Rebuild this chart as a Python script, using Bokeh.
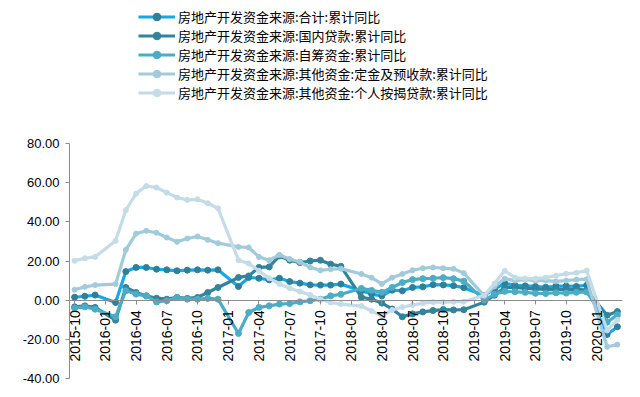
import numpy as np
from bokeh.plotting import figure
from bokeh.models import Range1d, FixedTicker, NumeralTickFormatter, Legend, LegendItem
from bokeh.embed import file_html
from bokeh.resources import INLINE

# ---------------- data ----------------
months = [
    "2015-10", "2015-11", "2015-12",
    "2016-02", "2016-03", "2016-04", "2016-05", "2016-06", "2016-07", "2016-08", "2016-09", "2016-10", "2016-11", "2016-12",
    "2017-02", "2017-03", "2017-04", "2017-05", "2017-06", "2017-07", "2017-08", "2017-09", "2017-10", "2017-11", "2017-12",
    "2018-02", "2018-03", "2018-04", "2018-05", "2018-06", "2018-07", "2018-08", "2018-09", "2018-10", "2018-11", "2018-12",
    "2019-02", "2019-03", "2019-04", "2019-05", "2019-06", "2019-07", "2019-08", "2019-09", "2019-10", "2019-11", "2019-12",
    "2020-02", "2020-03",
]

total = [1.5, 2.0, 2.6,
         -1.2, 14.6, 16.7, 16.7, 15.8, 15.5, 15.0, 15.3, 15.5, 15.3, 15.5,
         7.0, 11.6, 11.2, 10.4, 11.2, 9.5, 8.7, 7.8, 7.7, 7.7, 8.2,
         4.8, 3.1, 2.2, 5.1, 4.8, 6.5, 6.8, 7.9, 7.8, 7.4, 6.4,
         2.4, 5.6, 8.6, 7.6, 7.3, 7.0, 6.6, 7.2, 7.2, 7.0, 7.6,
         -17.5, -13.6]

domestic_loans = [-3.4, -2.9, -3.7,
                  -10.2, 6.5, 3.9, 2.2, 1.0, 0.5, 1.4, 0.9, 1.4, 3.9, 6.5,
                  11.6, 12.4, 16.7, 17.0, 22.6, 20.4, 19.2, 20.0, 20.4, 18.4, 17.3,
                  1.5, 0.5, -1.5, -4.5, -8.5, -7.0, -6.0, -5.3, -4.8, -5.0, -4.9,
                  -1.0, 2.5, 6.5, 6.5, 6.0, 5.8, 5.5, 5.6, 5.4, 5.5, 5.1,
                  -7.7, -5.8]

self_raised = [-4.1, -3.4, -4.6,
               -8.5, 4.8, 3.1, 2.2, -0.9, -0.3, 1.4, 0.5, 0.5, 0.9, 0.5,
               -17.0, -6.3, -3.7, -2.9, -2.0, -1.7, -0.9, -0.3, 0.5, 2.2, 3.0,
               6.0, 5.0, 4.0, 6.5, 9.0, 10.5, 11.0, 11.2, 11.5, 11.0, 9.7,
               0.0, 3.0, 4.5, 4.3, 4.0, 3.5, 3.4, 3.8, 3.6, 4.0, 4.2,
               -11.3, -7.5]

deposits = [5.3, 6.8, 7.7,
            8.2, 25.7, 34.0, 35.4, 34.4, 32.0, 29.8, 31.5, 32.5, 30.8, 29.1,
            27.2, 26.9, 22.1, 20.4, 23.1, 21.0, 19.5, 16.8, 15.2, 15.8, 16.1,
            13.4, 11.5, 8.3, 11.5, 13.4, 15.3, 16.3, 16.7, 16.3, 16.0, 13.8,
            2.2, 7.0, 11.0, 10.0, 10.5, 10.0, 10.0, 9.6, 10.0, 10.5, 10.7,
            -23.8, -22.7]

mortgages = [20.1, 21.4, 22.1,
             30.3, 45.9, 54.4, 58.3, 57.5, 54.9, 52.4, 51.2, 51.5, 49.5, 46.9,
             20.4, 18.7, 15.0, 11.2, 8.2, 6.1, 4.4, 2.7, 0.5, -1.2, -2.0,
             -3.0, -5.5, -8.0, -5.0, -3.5, -2.5, -1.5, -1.0, -1.0, -0.8, -0.8,
             2.5, 8.5, 15.0, 11.5, 11.0, 11.0, 11.5, 12.5, 13.5, 14.0, 15.1,
             -15.5, -10.0]

x_tick_labels = ["2015-10", "2016-01", "2016-04", "2016-07", "2016-10",
                 "2017-01", "2017-04", "2017-07", "2017-10",
                 "2018-01", "2018-04", "2018-07", "2018-10",
                 "2019-01", "2019-04", "2019-07", "2019-10", "2020-01"]
y_ticks = [-40, -20, 0, 20, 40, 60, 80]

names = ["房地产开发资金来源:合计:累计同比",
         "房地产开发资金来源:国内贷款:累计同比",
         "房地产开发资金来源:自筹资金:累计同比",
         "房地产开发资金来源:其他资金:定金及预收款:累计同比",
         "房地产开发资金来源:其他资金:个人按揭贷款:累计同比"]


def month_index(s):
    y, m = map(int, s.split("-"))
    return (y - 2015) * 12 + (m - 10)


x = [month_index(m) for m in months]

# ---------------- layout geometry ----------------
W, H = 640, 397
frame_left, frame_right = 69, 622
y_top_px, y_bot_px = 143, 378          # pixel rows of 80 and -40
y_min, y_max = min(y_ticks), max(y_ticks)
ppu = (y_bot_px - y_top_px) / (y_max - y_min)
# frame spans the full height so the legend (drawn in the frame) is not clipped
rng_top = y_max + y_top_px / ppu
rng_bot = y_min - (H - y_bot_px) / ppu

p = figure(width=W, height=H, output_backend="svg", toolbar_location=None,
           x_range=Range1d(-0.5, 53.5), y_range=Range1d(rng_bot, rng_top),
           min_border_left=frame_left, min_border_right=W - frame_right,
           min_border_top=0, min_border_bottom=0)
p.outline_line_color = None
p.grid.visible = False
p.background_fill_color = "white"
p.border_fill_color = "white"

axis_col = "#8C8C8C"
tick_font = "Liberation Sans"

p.xaxis.fixed_location = 0
p.xaxis.ticker = FixedTicker(ticks=[month_index(t) for t in x_tick_labels])
p.xaxis.major_label_overrides = {month_index(t): t for t in x_tick_labels}
p.xaxis.major_label_orientation = np.pi / 2
p.xaxis.axis_line_color = axis_col
p.xaxis.major_tick_line_color = axis_col
p.xaxis.major_tick_in = 0
p.xaxis.major_tick_out = 4
p.xaxis.minor_tick_line_color = None
p.xaxis.major_label_text_font = tick_font
p.xaxis.major_label_text_font_size = "14px"
p.xaxis.major_label_text_color = "#000000"
p.xaxis.major_label_standoff = 6

p.yaxis.ticker = FixedTicker(ticks=y_ticks)
p.yaxis.bounds = (y_min, y_max)
p.yaxis.formatter = NumeralTickFormatter(format="0.00")
p.yaxis.axis_line_color = axis_col
p.yaxis.major_tick_line_color = axis_col
p.yaxis.major_tick_in = 0
p.yaxis.major_tick_out = 4
p.yaxis.minor_tick_line_color = None
p.yaxis.major_label_text_font = tick_font
p.yaxis.major_label_text_font_size = "13px"
p.yaxis.major_label_text_color = "#000000"
p.yaxis.major_label_standoff = 6

series = [
    (total, "#12A9E6", "#2E7F97", 3.2, 6),
    (domestic_loans, "#31849B", "#31849B", 3.2, 6),
    (self_raised, "#4BACC6", "#4BACC6", 3.2, 6),
    (deposits, "#A2CBDA", "#A2CBDA", 3.2, 5),
    (mortgages, "#C3DCE7", "#C3DCE7", 3.2, 5),
]

items = []
for (vals, lc, mc, lw, ms), name in zip(series, names):
    r1 = p.line(x, vals, line_color=lc, line_width=lw)
    r2 = p.scatter(x, vals, size=ms, fill_color=mc, line_color=mc)
    items.append(LegendItem(label=name, renderers=[r1, r2]))

row_h = 19                       # larger than the 13px text box, so rows are exactly 19px
legend_h = row_h * len(names)
legend_top = 16.7 - row_h / 2
legend = Legend(items=items, location=(138 - frame_left, round(H - (legend_top + legend_h))),
                orientation="vertical",
                glyph_width=37, glyph_height=row_h, label_height=row_h,
                spacing=0, padding=0, margin=0, label_standoff=3,
                label_text_font="Noto Sans CJK SC", label_text_font_size="13px",
                label_text_color="#000000",
                border_line_color=None, background_fill_alpha=0)
p.add_layout(legend)

open("out.html", "w").write(file_html(p, INLINE))
